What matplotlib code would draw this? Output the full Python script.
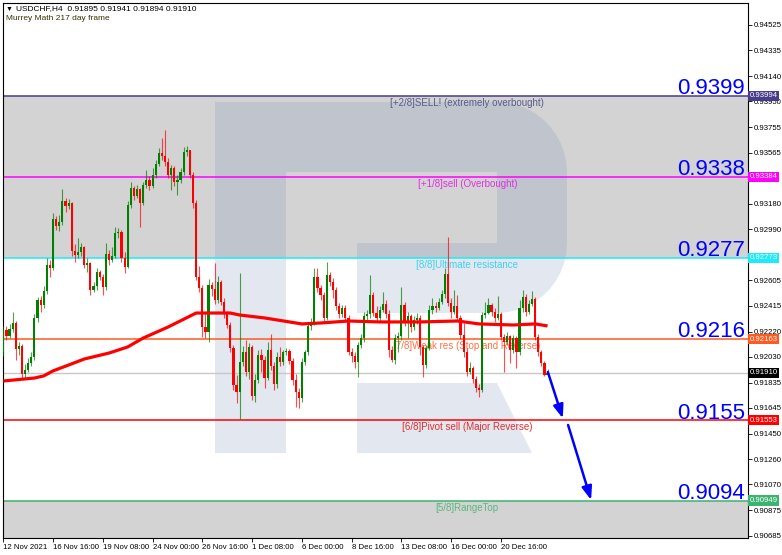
import numpy as np
import matplotlib.pyplot as plt
from matplotlib.patches import Polygon
from matplotlib.transforms import Affine2D, blended_transform_factory

plt.rcParams['font.family'] = ['Liberation Sans', 'DejaVu Sans']

# USDCHF H4, one candle every 4 hours from 12 Nov 2021 00:00
closes = [0.92231, 0.92186, 0.92239, 0.92284, 0.92089, 0.92111, 0.91901, 0.91931, 0.91983, 0.92028,
          0.92322, 0.92457, 0.92419, 0.92525, 0.92720, 0.92698, 0.93066, 0.93014, 0.93044, 0.93202,
          0.93164, 0.93186, 0.92826, 0.92795, 0.92818, 0.92856, 0.92720, 0.92735, 0.92532, 0.92562,
          0.92668, 0.92630, 0.92555, 0.92803, 0.92758, 0.92788, 0.92961, 0.92968, 0.92773, 0.92705,
          0.93171, 0.93299, 0.93239, 0.93292, 0.93186, 0.93322, 0.93359, 0.93314, 0.93397, 0.93480,
          0.93562, 0.93540, 0.93495, 0.93397, 0.93450, 0.93344, 0.93359, 0.93420, 0.93570, 0.93585,
          0.93397, 0.93186, 0.92630, 0.92547, 0.92254, 0.92216, 0.92570, 0.92540, 0.92457, 0.92592,
          0.92442, 0.92352, 0.92269, 0.92096, 0.91818, 0.91765, 0.91991, 0.92066, 0.91916, 0.92104,
          0.91735, 0.91855, 0.92043, 0.92006, 0.91870, 0.92081, 0.91961, 0.91825, 0.92028, 0.91991,
          0.92066, 0.92074, 0.91998, 0.91855, 0.91765, 0.91720, 0.91991, 0.92066, 0.92262, 0.92292,
          0.92630, 0.92547, 0.92495, 0.92322, 0.92645, 0.92592, 0.92532, 0.92412, 0.92352, 0.92397,
          0.92322, 0.92066, 0.92036, 0.91991, 0.92119, 0.92171, 0.92337, 0.92352, 0.92495, 0.92359,
          0.92322, 0.92382, 0.92427, 0.92352, 0.92081, 0.92006, 0.92171, 0.92186, 0.92419, 0.92292,
          0.92337, 0.92254, 0.92307, 0.92322, 0.92104, 0.91968, 0.92096, 0.92382, 0.92412, 0.92397,
          0.92442, 0.92502, 0.92653, 0.92434, 0.92367, 0.92412, 0.92322, 0.92194, 0.92066, 0.91916,
          0.91946, 0.91863, 0.91795, 0.91780, 0.92344, 0.92359, 0.92419, 0.92367, 0.92322, 0.92352,
          0.92179, 0.92141, 0.92186, 0.92081, 0.92171, 0.92066, 0.92397, 0.92480, 0.92367, 0.92427,
          0.92465, 0.92179, 0.92066, 0.91983, 0.91895, 0.91910]
highs = [0.92262, 0.92262, 0.92277, 0.92367, 0.92299, 0.92141, 0.92126, 0.91976, 0.92021, 0.92066,
         0.92352, 0.92480, 0.92487, 0.92562, 0.92773, 0.92758, 0.93111, 0.93089, 0.93096, 0.93292,
         0.93224, 0.93217, 0.93194, 0.92878, 0.92923, 0.92886, 0.92863, 0.92773, 0.92743, 0.92592,
         0.92698, 0.92683, 0.92653, 0.92886, 0.92833, 0.92856, 0.93006, 0.92998, 0.92983, 0.92818,
         0.93202, 0.93344, 0.93314, 0.93322, 0.93299, 0.93344, 0.93435, 0.93390, 0.93450, 0.93510,
         0.93600, 0.93675, 0.93735, 0.93525, 0.93473, 0.93465, 0.93397, 0.93450, 0.93608, 0.93615,
         0.93585, 0.93420, 0.93209, 0.92713, 0.92570, 0.92367, 0.92615, 0.92592, 0.92735, 0.92638,
         0.92607, 0.92472, 0.92374, 0.92292, 0.92119, 0.91893, 0.92660, 0.92111, 0.92156, 0.92134,
         0.92119, 0.91901, 0.92081, 0.92089, 0.92036, 0.92141, 0.92201, 0.91991, 0.92066, 0.92104,
         0.92081, 0.92096, 0.92089, 0.92021, 0.91901, 0.91795, 0.92021, 0.92081, 0.92292, 0.92322,
         0.92698, 0.92698, 0.92570, 0.92517, 0.92743, 0.92668, 0.92622, 0.92555, 0.92434, 0.92419,
         0.92419, 0.92344, 0.92096, 0.92066, 0.92141, 0.92201, 0.92367, 0.92382, 0.92645, 0.92517,
         0.92412, 0.92412, 0.92517, 0.92457, 0.92382, 0.92111, 0.92201, 0.92216, 0.92555, 0.92442,
         0.92367, 0.92352, 0.92337, 0.92359, 0.92344, 0.92119, 0.92119, 0.92419, 0.92472, 0.92442,
         0.92472, 0.92532, 0.92698, 0.92931, 0.92472, 0.92532, 0.92495, 0.92344, 0.92284, 0.92096,
         0.91991, 0.91961, 0.91886, 0.91825, 0.92367, 0.92442, 0.92472, 0.92434, 0.92397, 0.92487,
         0.92367, 0.92201, 0.92216, 0.92194, 0.92194, 0.92186, 0.92457, 0.92532, 0.92502, 0.92457,
         0.92525, 0.92480, 0.92201, 0.92081, 0.91998, 0.91941]
lows = [0.92036, 0.92156, 0.92171, 0.92216, 0.92006, 0.92043, 0.91870, 0.91870, 0.91916, 0.91961,
        0.92006, 0.92292, 0.92367, 0.92397, 0.92502, 0.92630, 0.92683, 0.92983, 0.92976, 0.93021,
        0.93119, 0.93141, 0.92788, 0.92743, 0.92773, 0.92788, 0.92698, 0.92668, 0.92495, 0.92517,
        0.92532, 0.92607, 0.92495, 0.92532, 0.92720, 0.92743, 0.92773, 0.92923, 0.92743, 0.92660,
        0.92698, 0.93149, 0.93209, 0.93224, 0.93006, 0.93171, 0.93299, 0.93284, 0.93299, 0.93374,
        0.93465, 0.93510, 0.93465, 0.93374, 0.93284, 0.93314, 0.93247, 0.93337, 0.93397, 0.93540,
        0.93374, 0.93149, 0.92607, 0.92517, 0.92179, 0.92171, 0.92141, 0.92487, 0.92427, 0.92434,
        0.92419, 0.92322, 0.92246, 0.92066, 0.91780, 0.91682, 0.91562, 0.91961, 0.91886, 0.91863,
        0.91705, 0.91690, 0.91833, 0.91916, 0.91795, 0.91855, 0.91931, 0.91780, 0.91795, 0.91961,
        0.91968, 0.92043, 0.91976, 0.91818, 0.91652, 0.91645, 0.91690, 0.91968, 0.92043, 0.92231,
        0.92269, 0.92517, 0.92457, 0.92292, 0.92307, 0.92562, 0.92472, 0.92382, 0.92322, 0.92329,
        0.92292, 0.92043, 0.91991, 0.91946, 0.91878, 0.92096, 0.92141, 0.92307, 0.92322, 0.92337,
        0.92292, 0.92299, 0.92367, 0.92322, 0.92028, 0.91991, 0.91976, 0.92066, 0.92156, 0.92262,
        0.92171, 0.92216, 0.92231, 0.92277, 0.92043, 0.91878, 0.91946, 0.92081, 0.92352, 0.92367,
        0.92382, 0.92427, 0.92472, 0.92412, 0.92322, 0.92352, 0.92307, 0.92164, 0.92028, 0.91886,
        0.91901, 0.91833, 0.91765, 0.91728, 0.91765, 0.92322, 0.92352, 0.92337, 0.92292, 0.92307,
        0.92156, 0.91916, 0.92119, 0.91983, 0.92058, 0.91946, 0.92043, 0.92367, 0.92337, 0.92352,
        0.92412, 0.92156, 0.92036, 0.91961, 0.91886, 0.91894]
# each candle opens where the previous one closed
opens = [0.92066] + closes[:-1]

# 217 period moving average, read at a few bars
ma_bars = [0, 10, 13, 16, 21, 26, 34, 40, 45, 53, 62, 67, 73, 76, 84, 96, 102, 111, 121, 134, 146, 153, 164, 171, 175]
ma_values = [0.91848, 0.91870, 0.91886, 0.91924, 0.91968, 0.92013, 0.92058, 0.92104, 0.92171, 0.92254,
             0.92359, 0.92359, 0.92359, 0.92344, 0.92322, 0.92277, 0.92284, 0.92299, 0.92292, 0.92292,
             0.92299, 0.92277, 0.92269, 0.92277, 0.92262]

# Murrey Math lines
levels = [0.93994, 0.93384, 0.92773, 0.92163, 0.91553, 0.90949]
level_names = ['[+2/8]SELL! (extremely overbought)', '[+1/8]sell (Overbought)', '[8/8]Ultimate resistance',
               '[7/8]Weak res (Stop and Reverse)', '[6/8]Pivot sell (Major Reverse)', '[5/8]RangeTop']
level_big = ['0.9399', '0.9338', '0.9277', '0.9216', '0.9155', '0.9094']
line_colors = ['#483D8B', '#FF00FF', '#1EEBFA', '#FF5A1F', '#FF0000', '#3CB371']
name_colors = ['#5A5A8C', '#E030E0', '#40D0F0', '#FF7040', '#E03030', '#5CB87F']
name_pos = [0.5195, 0.557, 0.5544, 0.5235, 0.5356, 0.5799]
last_price = 0.91910

# price scale labels (those hidden behind the level boxes are left out)
ytick_values = [0.94525, 0.94335, 0.94140, 0.93950, 0.93755, 0.93565, 0.93180, 0.92990,
                0.92605, 0.92415, 0.92220, 0.92030, 0.91835, 0.91645, 0.91450, 0.91260, 0.91070, 0.90875,
                0.90685]
xtick_bars = [0, 16, 32, 48, 64, 80, 96, 112, 128, 144, 160]
xtick_labels = ['12 Nov 2021', '16 Nov 16:00', '19 Nov 08:00', '24 Nov 00:00', '26 Nov 16:00', '1 Dec 08:00',
                '6 Dec 00:00', '8 Dec 16:00', '13 Dec 08:00', '16 Dec 00:00', '20 Dec 16:00']

# forecast arrows (bar, price)
arrow_from = [(175.1, 0.91915), (181.6, 0.91517)]
arrow_to = [(179.9, 0.91567), (189.0, 0.90953)]

fig = plt.figure(figsize=(7.82, 5.55), dpi=100)
ax = fig.add_axes([3 / 782, 17 / 555, 745 / 782, 535 / 555])
ax.set_xlim(-0.1, 239.45)
ax.set_ylim(0.906672, 0.946904)

# grey zones
ax.axhspan(levels[2], levels[0], color='#D3D3D3', lw=0, zorder=0.5)
ax.axhspan(0.906, levels[5], color='#D3D3D3', lw=0, zorder=0.5)

# watermark (drawn in picture pixels)
pix = Affine2D().scale(1 / 782, -1 / 555).translate(0, 1) + fig.transFigure
t1 = np.linspace(np.pi / 2, 0, 12)
t2 = np.linspace(0, -np.pi / 2, 12)
arc1 = [(497 + 70 * np.cos(t), 172 - 70 * np.sin(t)) for t in t1]
arc2 = [(497 + 70 * np.cos(t), 243 - 70 * np.sin(t)) for t in t2]
r_body = [(215, 102)] + arc1 + arc2 + [(357, 313), (357, 243), (497, 243), (497, 172),
                                       (286, 172), (286, 453), (215, 453)]
r_leg = [(357, 383), (497, 383), (532, 453), (357, 453)]
for pts in (r_body, r_leg):
    ax.add_patch(Polygon(pts, closed=True, transform=pix, fc='#8096BB', alpha=0.22, ec='none', zorder=0.8))

# level lines and labels
yx = blended_transform_factory(ax.transAxes, ax.transData)
for lv, name, big, lc, nc, nx in zip(levels, level_names, level_big, line_colors, name_colors, name_pos):
    ax.axhline(lv, color=lc, lw=1.1, zorder=1.5)
    ax.annotate(name, (nx, lv), xycoords=yx, xytext=(0, -1.5), textcoords='offset points',
                ha='left', va='top', fontsize=7, color=nc, zorder=2)
    ax.annotate(big, (0.996, lv), xycoords=yx, xytext=(0, 1.2), textcoords='offset points',
                ha='right', va='baseline', fontsize=16, color='#0000FF', zorder=6)
    ax.text(1.002, lv, f'{lv:.5f}', transform=yx, ha='left', va='center', fontsize=5.6, color='white',
            bbox=dict(boxstyle='square,pad=0.2', fc=lc, ec='none'), clip_on=False, zorder=7)

ax.axhline(last_price, color='#C8C8C8', lw=1, zorder=1.4)
ax.text(1.002, last_price, f'{last_price:.5f}', transform=yx, ha='left', va='center', fontsize=5.6,
        color='white', bbox=dict(boxstyle='square,pad=0.2', fc='black', ec='none'), clip_on=False, zorder=7)

# candles
idx = np.arange(len(closes))
o = np.array(opens)
c = np.array(closes)
h = np.maximum(np.array(highs), np.maximum(o, c))
l = np.minimum(np.array(lows), np.minimum(o, c))
col = np.where(c >= o, '#008000', '#FF0000')
ax.vlines(idx, l, h, colors=col, lw=0.8, alpha=0.7, zorder=3)
ax.bar(idx, np.maximum(np.abs(c - o), 0.00003), bottom=np.minimum(o, c), width=0.7, color=col,
       lw=0, zorder=4)

# moving average
ax.plot(ma_bars, ma_values, color='#FF0000', lw=2.3, zorder=5, solid_capstyle='butt')

# arrows
for a, b in zip(arrow_from, arrow_to):
    ax.annotate('', xy=b, xytext=a,
                arrowprops=dict(arrowstyle='-|>,head_length=0.8,head_width=0.3', color='#0000FF',
                                lw=1.8, mutation_scale=10, shrinkA=0, shrinkB=0), zorder=6)

# axes
ax.yaxis.tick_right()
ax.set_yticks(ytick_values)
ax.set_yticklabels([f'{v:.5f}' for v in ytick_values])
ax.set_xticks(xtick_bars)
ax.set_xticklabels(xtick_labels, ha='left')
ax.tick_params(axis='both', direction='out', length=3, width=0.6, labelsize=5.6, pad=1.5, colors='black')
for s in ax.spines.values():
    s.set_linewidth(0.8)
    s.set_color('black')

fig.text(6 / 782, 1 - 9 / 555, '\u25bc', fontsize=5, va='center', ha='left', color='black')
fig.text(16 / 782, 1 - 9 / 555, 'USDCHF,H4  0.91895 0.91941 0.91894 0.91910', fontsize=6, va='center',
         ha='left', color='black')
fig.text(6 / 782, 1 - 19 / 555, 'Murrey Math 217 day frame', fontsize=6, va='center', ha='left', color='#333300')

fig.savefig('out.png', dpi=100, facecolor='white')
